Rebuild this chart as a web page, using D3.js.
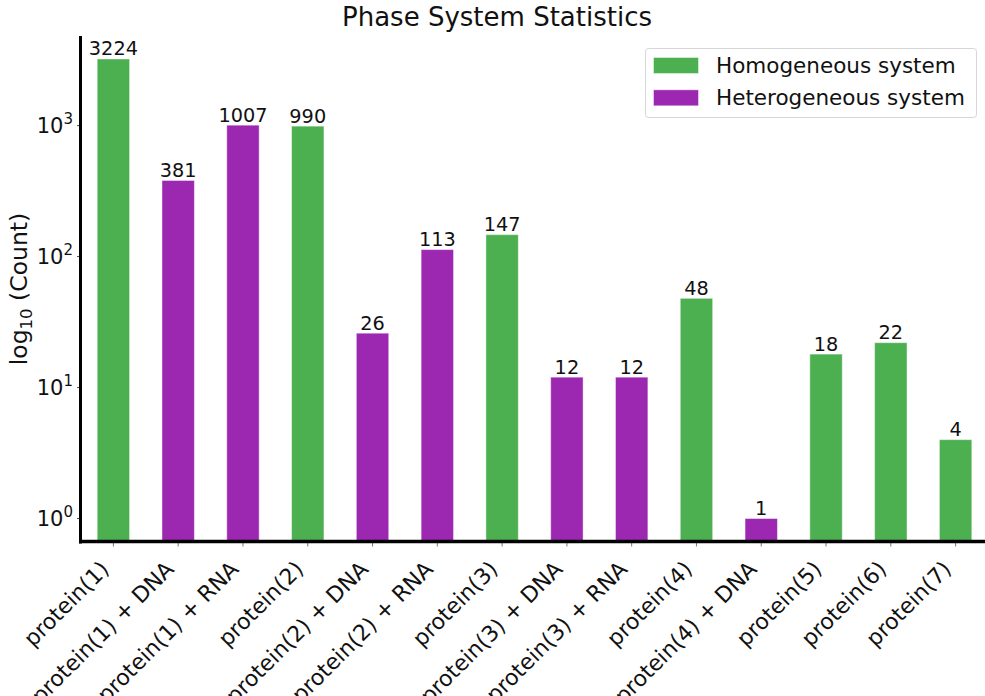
<!DOCTYPE html>
<html>
<head>
<meta charset="utf-8">
<script src="https://cdn.jsdelivr.net/npm/d3@7"></script>
<style>
  html, body { margin: 0; padding: 0; background: #fff; }
  svg { display: block; font-family: "DejaVu Sans", sans-serif; }
</style>
</head>
<body>
<svg id="chart" width="985" height="696"></svg>
<script>
// Phase system counts per category
const categories = [
  "protein(1)", "protein(1) + DNA", "protein(1) + RNA",
  "protein(2)", "protein(2) + DNA", "protein(2) + RNA",
  "protein(3)", "protein(3) + DNA", "protein(3) + RNA",
  "protein(4)", "protein(4) + DNA",
  "protein(5)", "protein(6)", "protein(7)"
];
const counts = [3224, 381, 1007, 990, 26, 113, 147, 12, 12, 48, 1, 18, 22, 4];
const systemType = ["homo", "hetero", "hetero", "homo", "hetero", "hetero", "homo",
                    "hetero", "hetero", "homo", "hetero", "homo", "homo", "homo"];
const legendLabels = ["Homogeneous system", "Heterogeneous system"];
const yTickExponents = [0, 1, 2, 3];

const colors = { homo: "#4caf50", hetero: "#9c27b0" };

const svg = d3.select("#chart");
const plot = { left: 81, right: 988, top: 36, bottom: 541.5 };

// x: category index, with half a slot of padding at each end
const x = d3.scaleLinear().domain([-0.5, categories.length - 0.5]).range([plot.left, plot.right]);
const barWidth = 0.5;

// y: log scale with 5% (in log space) margins around the data range
const lmin = Math.log10(d3.min(counts)), lmax = Math.log10(d3.max(counts));
const pad = (lmax - lmin) * 0.05;
const y = d3.scaleLog().domain([Math.pow(10, lmin - pad), Math.pow(10, lmax + pad)])
  .range([plot.bottom, plot.top]);

// Bars
svg.append("g").selectAll("rect").data(counts).join("rect")
  .attr("x", (d, i) => x(i - barWidth / 2))
  .attr("width", (d, i) => x(i + barWidth / 2) - x(i - barWidth / 2))
  .attr("y", d => y(d))
  .attr("height", d => plot.bottom - y(d))
  .attr("fill", (d, i) => colors[systemType[i]])
  .attr("stroke", "rgba(255,255,255,0.45)")
  .attr("stroke-width", 1);

// Value labels above each bar
svg.append("g").selectAll("text").data(counts).join("text")
  .attr("x", (d, i) => x(i))
  .attr("y", d => y(d) - 3.5)
  .attr("text-anchor", "middle")
  .attr("font-size", 19.3)
  .attr("fill", "#111")
  .text(d => d);

// Y axis: minor ticks
const [d0, d1] = y.domain();
const minor = [];
for (let e = Math.floor(Math.log10(d0)); e <= Math.ceil(Math.log10(d1)); e++) {
  for (let m = 2; m <= 9; m++) {
    const v = m * Math.pow(10, e);
    if (v >= d0 && v <= d1) minor.push(v);
  }
}
svg.append("g").selectAll("line").data(minor).join("line")
  .attr("x1", plot.left - 2).attr("x2", plot.left)
  .attr("y1", d => y(d)).attr("y2", d => y(d))
  .attr("stroke", "#555").attr("stroke-width", 0.6);

// Y axis: major ticks and labels
const yMajor = yTickExponents.map(e => Math.pow(10, e));
svg.append("g").selectAll("line").data(yMajor).join("line")
  .attr("x1", plot.left - 4).attr("x2", plot.left)
  .attr("y1", d => y(d)).attr("y2", d => y(d))
  .attr("stroke", "#222").attr("stroke-width", 0.8);

const yLab = svg.append("g").selectAll("text").data(yTickExponents).join("text")
  .attr("x", plot.left - 8)
  .attr("y", e => y(Math.pow(10, e)) + 7.5)
  .attr("text-anchor", "end")
  .attr("font-size", 21)
  .attr("fill", "#111");
yLab.append("tspan").text("10");
yLab.append("tspan").attr("dy", -9.5).attr("font-size", 15).text(e => e);

// X axis ticks and rotated labels
svg.append("g").selectAll("line").data(categories).join("line")
  .attr("x1", (d, i) => x(i)).attr("x2", (d, i) => x(i))
  .attr("y1", plot.bottom).attr("y2", plot.bottom + 5)
  .attr("stroke", "#555").attr("stroke-width", 0.8);

svg.append("g").selectAll("text").data(categories).join("text")
  .attr("transform", (d, i) => `translate(${x(i) - 3},${plot.bottom + 29}) rotate(-45)`)
  .attr("text-anchor", "end")
  .attr("font-size", 22)
  .attr("fill", "#111")
  .text(d => d);

// Spines (left and bottom only)
svg.append("line").attr("x1", plot.left - 0.5).attr("x2", plot.left - 0.5)
  .attr("y1", plot.top).attr("y2", plot.bottom + 2)
  .attr("stroke", "#000").attr("stroke-width", 3);
svg.append("line").attr("x1", plot.left - 2).attr("x2", 985)
  .attr("y1", plot.bottom).attr("y2", plot.bottom)
  .attr("stroke", "#000").attr("stroke-width", 3.5);

// Y axis label
const yTitle = svg.append("text")
  .attr("transform", "translate(27,289) rotate(-90)")
  .attr("text-anchor", "middle")
  .attr("font-size", 23.5)
  .attr("fill", "#111");
yTitle.append("tspan").text("log");
yTitle.append("tspan").attr("dy", 5).attr("font-size", 16.5).text("10");
yTitle.append("tspan").attr("dy", -5).text(" (Count)");

// Title
svg.append("text")
  .attr("x", 497).attr("y", 26)
  .attr("text-anchor", "middle")
  .attr("font-size", 26)
  .attr("fill", "#111")
  .text("Phase System Statistics");

// Legend
const lg = svg.append("g");
lg.append("rect")
  .attr("x", 645.5).attr("y", 48.5).attr("width", 331).attr("height", 69)
  .attr("rx", 3).attr("fill", "rgba(255,255,255,0.8)")
  .attr("stroke", "#d6d6d6").attr("stroke-width", 1);
const legendKeys = ["homo", "hetero"];
legendKeys.forEach((k, i) => {
  const cy = 65.5 + i * 32.3;
  lg.append("rect")
    .attr("x", 653.5).attr("y", cy - 8).attr("width", 45).attr("height", 16)
    .attr("fill", colors[k])
    .attr("stroke", "rgba(255,255,255,0.45)").attr("stroke-width", 1);
  lg.append("text")
    .attr("x", 716).attr("y", cy + 7.5)
    .attr("font-size", 21.5)
    .attr("fill", "#111")
    .text(legendLabels[i]);
});
</script>
</body>
</html>
